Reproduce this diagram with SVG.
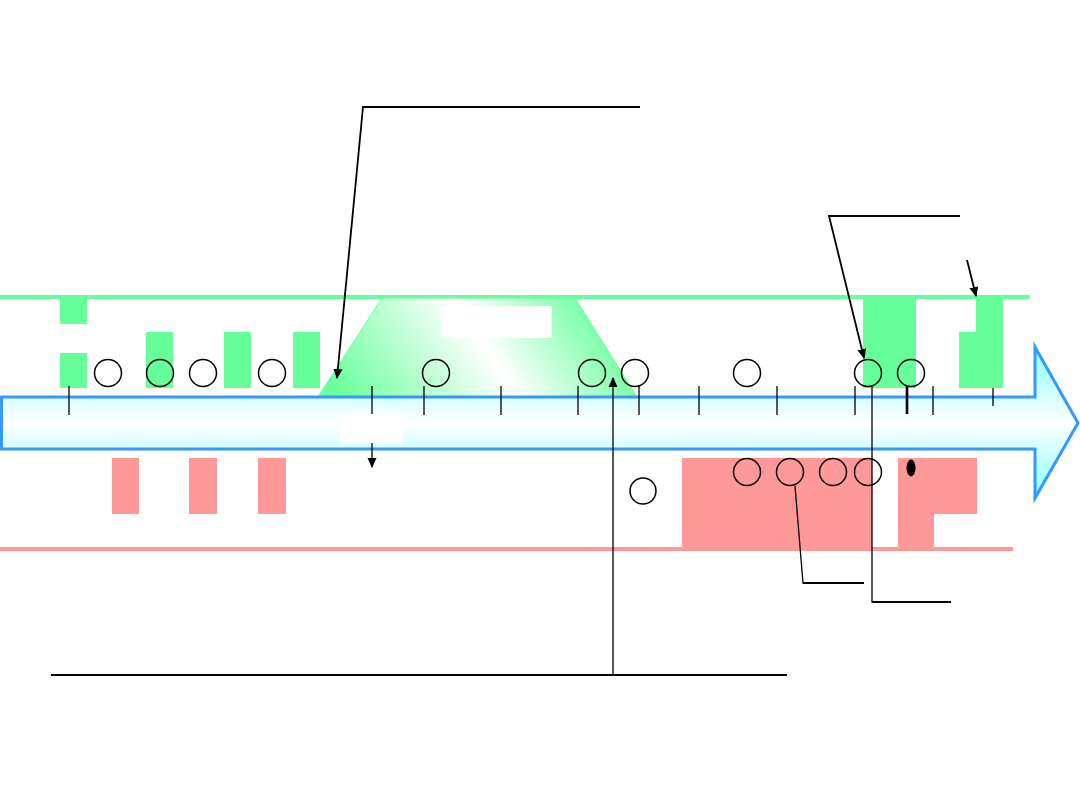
<svg xmlns="http://www.w3.org/2000/svg" width="1080" height="810" viewBox="0 0 1080 810">
<style>
.g{fill:#66ff99}
.p{fill:#ff9999}
.c{fill:none;stroke:#000;stroke-width:1.5}
.t{stroke:#000;stroke-width:1.3}
.ln{fill:none;stroke:#000;stroke-width:1.8}
.lb{fill:#fff}
</style>
<defs>
<marker id="ah" markerWidth="10" markerHeight="10" refX="9" refY="5" orient="auto" markerUnits="userSpaceOnUse">
<path d="M0,0.5 L10,5 L0,9.5 Z" fill="#000"/>
</marker>
<linearGradient id="ag" x1="0" y1="0" x2="0" y2="1">
<stop offset="0" stop-color="#88ffff"/>
<stop offset="0.5" stop-color="#ffffff"/>
<stop offset="1" stop-color="#88ffff"/>
</linearGradient>
<linearGradient id="tg" gradientUnits="userSpaceOnUse" x1="346" y1="439" x2="578" y2="284">
<stop offset="0.05" stop-color="#66ff99"/>
<stop offset="0.6" stop-color="#ffffff"/>
<stop offset="1" stop-color="#70ffa0"/>
</linearGradient>
</defs>
<rect width="1080" height="810" fill="#fff"/>
<g id="bands">
<line x1="0" y1="297" x2="1030" y2="297" stroke="#66ff99" stroke-width="4"/>
<line x1="0" y1="549" x2="1013" y2="549" stroke="#ff9999" stroke-width="4"/>
</g>
<g id="window">
<path d="M382,298 L575,298 L637,397 L318,397 Z" fill="url(#tg)" stroke="#66ff99" stroke-width="1"/>
<rect class="lb" x="441" y="306" width="111" height="32"/>
</g>
<g id="green-bars">
<rect class="g" x="60" y="298" width="27" height="26"/>
<rect class="g" x="60" y="353" width="27" height="35"/>
<rect class="g" x="146" y="332" width="27" height="56"/>
<rect class="g" x="224" y="332" width="27" height="56"/>
<rect class="g" x="293" y="332" width="27" height="56"/>
<rect class="g" x="863" y="298" width="53" height="90"/>
<path class="g" d="M976,298 H1003 V388 H959 V332 H976 Z"/>
</g>
<g id="red-bars">
<rect class="p" x="112" y="458" width="27" height="56"/>
<rect class="p" x="189" y="458" width="28" height="56"/>
<rect class="p" x="258" y="458" width="28" height="56"/>
<rect class="p" x="682" y="458" width="190" height="91"/>
<path class="p" d="M898,458 H977 V514 H934 V549 H898 Z"/>
</g>
<g id="timeline">
<path d="M1.5,397 H1035 V347 L1078,423 L1035,498 V449 H1.5 Z" fill="url(#ag)" stroke="#3399ff" stroke-width="3" stroke-linejoin="miter"/>
</g>
<g id="ticks">
<line class="t" x1="69" y1="386" x2="69" y2="415"/>
<line class="t" x1="424" y1="386" x2="424" y2="415"/>
<line class="t" x1="501" y1="386" x2="501" y2="415"/>
<line class="t" x1="578" y1="386" x2="578" y2="415"/>
<line class="t" x1="639" y1="386" x2="639" y2="415"/>
<line class="t" x1="699" y1="386" x2="699" y2="415"/>
<line class="t" x1="777" y1="386" x2="777" y2="415"/>
<line class="t" x1="855" y1="386" x2="855" y2="415"/>
<line x1="907" y1="386" x2="907" y2="414" stroke="#000" stroke-width="2.6"/>
<line class="t" x1="933" y1="386" x2="933" y2="415"/>
<line class="t" x1="993" y1="388" x2="993" y2="406"/>
</g>
<g id="top-events">
<circle class="c" cx="108" cy="373" r="13.5"/>
<circle class="c" cx="160" cy="373" r="13.5"/>
<circle class="c" cx="203" cy="373" r="13.5"/>
<circle class="c" cx="272" cy="373" r="13.5"/>
<circle class="c" cx="436" cy="373" r="13.5"/>
<circle class="c" cx="592" cy="373" r="13.5"/>
<circle class="c" cx="635" cy="373" r="13.5"/>
<circle class="c" cx="747" cy="373" r="13.5"/>
<circle class="c" cx="868" cy="373" r="13.5"/>
<circle class="c" cx="911" cy="373" r="13.5"/>
</g>
<g id="bottom-events">
<circle class="c" cx="643" cy="491" r="13"/>
<circle class="c" cx="747" cy="472" r="13.5"/>
<circle class="c" cx="790" cy="472" r="13.5"/>
<circle class="c" cx="833" cy="472" r="13.5"/>
<circle class="c" cx="868" cy="472" r="13.5"/>
<ellipse cx="911" cy="468" rx="4.5" ry="8.5" fill="#000"/>
</g>
<g id="connectors">
<line class="t" x1="372" y1="386" x2="372" y2="467" marker-end="url(#ah)"/>
<rect class="lb" x="340" y="414" width="63" height="29"/>
<polyline class="ln" points="640,107 363,107 337,378" marker-end="url(#ah)"/>
<polyline class="ln" points="960,216 829,216 864,358" marker-end="url(#ah)"/>
<line class="ln" x1="967" y1="260" x2="976" y2="296" marker-end="url(#ah)"/>
<line class="ln" x1="51" y1="675" x2="787" y2="675" stroke-width="2.2"/>
<line class="t" x1="613" y1="675" x2="613" y2="378" marker-end="url(#ah)"/>
<polyline class="t" points="872,386 872,602 951,602" style="fill:none"/>
<line x1="872" y1="602" x2="951" y2="602" stroke="#000" stroke-width="2"/>
<polyline class="t" points="795,486 803,583 864,583" style="fill:none"/>
<line x1="803" y1="583" x2="864" y2="583" stroke="#000" stroke-width="2"/>
</g>
</svg>
